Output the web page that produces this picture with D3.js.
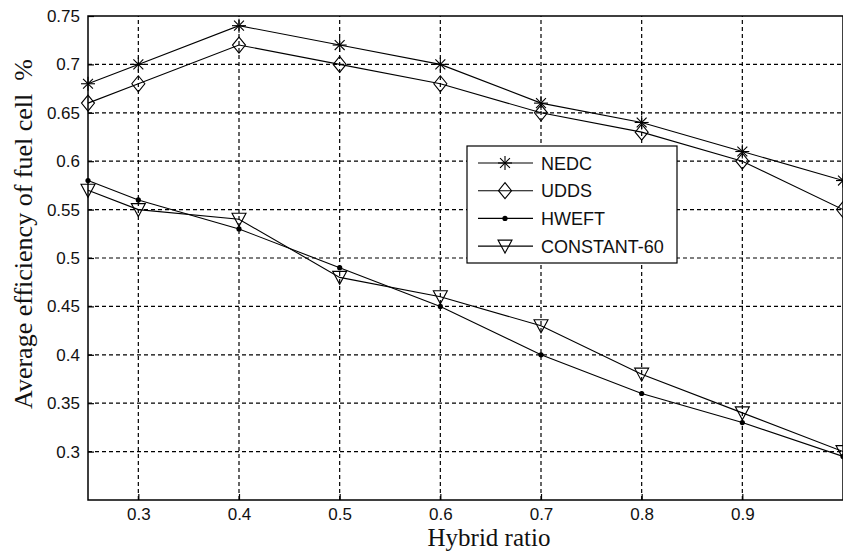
<!DOCTYPE html>
<meta charset="utf-8">
<style>
body { margin: 0; background: #fff; overflow: hidden; }
.tick text { font-family: "Liberation Sans", Arial, sans-serif; font-size: 17px; fill: #111; }
.grid line { stroke: #000; stroke-dasharray: 4,3; stroke-width: 1.2; }
.series { fill: none; stroke: #000; stroke-width: 1.1; }
.lab { font-family: "Liberation Serif", "Times New Roman", serif; fill: #111; white-space: pre; }
</style>
<body>
<script src="https://d3js.org/d3.v7.min.js"></script>
<script>
var W = 843, H = 556;
var margin = {left: 88, top: 16, right: 0, bottom: 56};

var ratios = [0.25, 0.3, 0.4, 0.5, 0.6, 0.7, 0.8, 0.9, 1.0];
var nedc = [0.68, 0.70, 0.74, 0.72, 0.70, 0.66, 0.64, 0.61, 0.58];
var udds = [0.66, 0.68, 0.72, 0.70, 0.68, 0.65, 0.63, 0.60, 0.55];
var hweft = [0.58, 0.56, 0.53, 0.49, 0.45, 0.40, 0.36, 0.33, 0.295];
var const60 = [0.57, 0.55, 0.54, 0.48, 0.46, 0.43, 0.38, 0.34, 0.30];
var names = ["NEDC", "UDDS", "HWEFT", "CONSTANT-60"];
var xTicks = [0.3, 0.4, 0.5, 0.6, 0.7, 0.8, 0.9];
var yTicks = [0.3, 0.35, 0.4, 0.45, 0.5, 0.55, 0.6, 0.65, 0.7, 0.75];

var series = [nedc, udds, hweft, const60];
var markers = ["star", "diamond", "dot", "tri"];

var svg = d3.select("body").append("svg")
    .attr("width", W)
    .attr("height", H);

var x = d3.scaleLinear().domain([0.25, 1.0]).range([margin.left, W - margin.right]);
var y = d3.scaleLinear().domain([0.25, 0.75]).range([H - margin.bottom, margin.top]);

// grid
var grid = svg.append("g").attr("class", "grid");
grid.selectAll(".gx").data(xTicks).enter().append("line")
    .attr("x1", d => x(d)).attr("x2", d => x(d))
    .attr("y1", y(0.25)).attr("y2", y(0.75));
grid.selectAll(".gy").data(yTicks.filter(d => d < 0.75)).enter().append("line")
    .attr("y1", d => y(d)).attr("y2", d => y(d))
    .attr("x1", x(0.25)).attr("x2", x(1.0));

// frame
svg.append("rect")
    .attr("x", x(0.25)).attr("y", y(0.75))
    .attr("width", x(1.0) - x(0.25)).attr("height", y(0.25) - y(0.75))
    .attr("fill", "none").attr("stroke", "#000").attr("stroke-width", 1.5);

// axes
var xAxis = svg.append("g")
    .attr("transform", "translate(0," + y(0.25) + ")")
    .call(d3.axisBottom(x).tickValues(xTicks).tickSize(-6).tickPadding(8).tickFormat(d3.format("")));
var yAxis = svg.append("g")
    .attr("transform", "translate(" + x(0.25) + ",0)")
    .call(d3.axisLeft(y).tickValues(yTicks).tickSize(-6).tickPadding(8).tickFormat(d3.format("")));
[xAxis, yAxis].forEach(function(a) {
  a.select(".domain").remove();
  a.selectAll(".tick line").attr("stroke", "#000").attr("stroke-width", 1.2);
});

function drawMarker(g, type, cx, cy) {
  if (type === "star") {
    var r = 7;
    for (var i = 0; i < 4; i++) {
      var a = i * Math.PI / 4;
      g.append("line")
        .attr("x1", cx - r * Math.cos(a)).attr("y1", cy - r * Math.sin(a))
        .attr("x2", cx + r * Math.cos(a)).attr("y2", cy + r * Math.sin(a))
        .attr("stroke", "#000").attr("stroke-width", 1.1);
    }
  } else if (type === "diamond") {
    g.append("path")
      .attr("d", "M" + cx + "," + (cy - 8) + "L" + (cx + 6.5) + "," + cy + "L" + cx + "," + (cy + 8) + "L" + (cx - 6.5) + "," + cy + "Z")
      .attr("fill", "none").attr("stroke", "#000").attr("stroke-width", 1.1);
  } else if (type === "dot") {
    g.append("circle").attr("cx", cx).attr("cy", cy).attr("r", 2.6).attr("fill", "#000");
  } else {
    g.append("path")
      .attr("d", "M" + (cx - 7) + "," + (cy - 6) + "L" + (cx + 7) + "," + (cy - 6) + "L" + cx + "," + (cy + 7) + "Z")
      .attr("fill", "none").attr("stroke", "#000").attr("stroke-width", 1.1);
  }
}

var line = d3.line().x((d, i) => x(ratios[i])).y(d => y(d));
var plot = svg.append("g");
series.forEach(function(s, k) {
  plot.append("path").attr("class", "series").attr("d", line(s));
  s.forEach(function(v, i) { drawMarker(plot, markers[k], x(ratios[i]), y(v)); });
});

// legend
var lg = svg.append("g");
lg.append("rect").attr("x", 467).attr("y", 146).attr("width", 210).attr("height", 117)
    .attr("fill", "#fff").attr("stroke", "#000").attr("stroke-width", 1.2);
names.forEach(function(n, k) {
  var ly = 163 + k * 27.7;
  lg.append("line").attr("x1", 478).attr("x2", 533).attr("y1", ly).attr("y2", ly)
    .attr("stroke", "#000").attr("stroke-width", 1.1);
  drawMarker(lg, markers[k], 505, ly);
  lg.append("text").attr("x", 541).attr("y", ly + 6.5).text(n)
    .attr("font-family", "Liberation Sans, Arial, sans-serif").attr("font-size", 18).attr("fill", "#111");
});

// axis labels
svg.append("text").attr("class", "lab").attr("x", 489).attr("y", 546)
    .attr("font-size", 25).attr("text-anchor", "middle").text("Hybrid ratio");
svg.append("text").attr("class", "lab")
    .attr("transform", "translate(32,234) rotate(-90)")
    .attr("font-size", 26).attr("text-anchor", "middle").text("Average efficiency of fuel cell  %");
</script>
</body>
</html>
